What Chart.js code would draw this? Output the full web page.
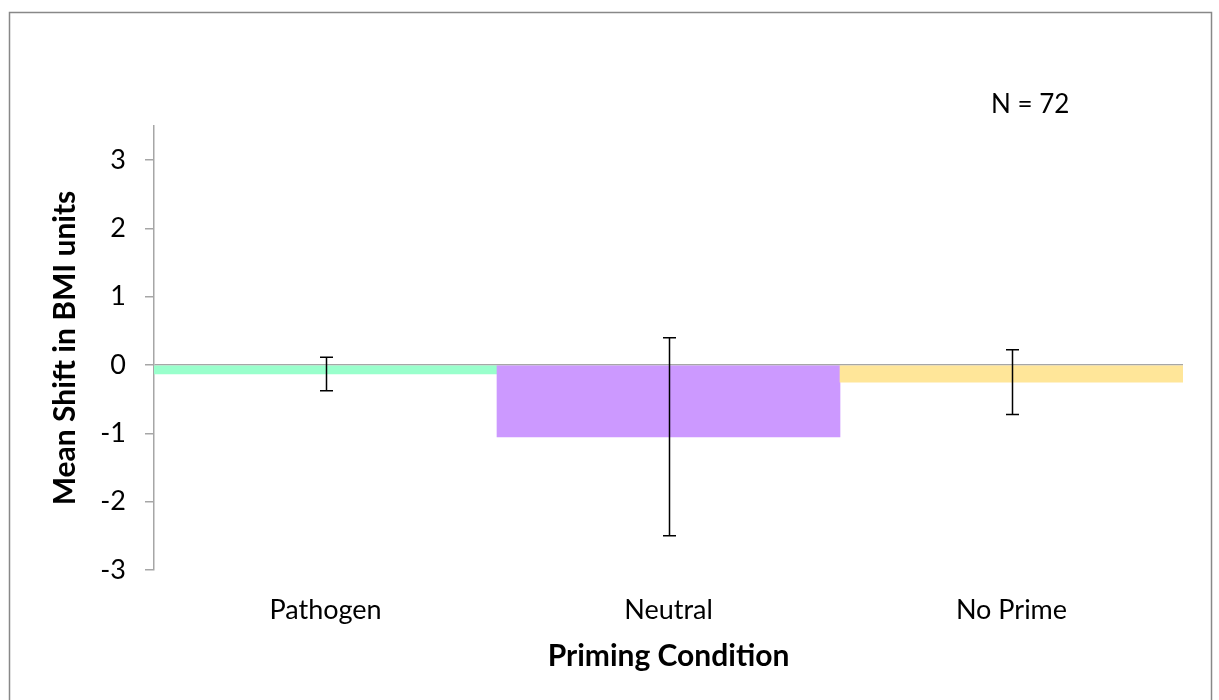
<!DOCTYPE html>
<html>
<head>
<meta charset="utf-8">
<script src="https://cdn.jsdelivr.net/npm/chart.js@4/dist/chart.umd.min.js"></script>
<style>
  body { margin: 0; background: #fff; }
  #wrap { position: absolute; left: 0; top: 0; width: 1219px; height: 700px; }
</style>
</head>
<body>
<div id="wrap"><canvas id="chart"></canvas></div>
<script>
// data
const categories = ['Pathogen', 'Neutral', 'No Prime'];
const meanShift = [-0.13, -1.05, -0.25];
const errorSize = [0.245, 1.45, 0.475];
const barColors = ['#99FFCC', '#CC99FF', '#FFE699'];
const sampleNote = 'N = 72';

const FONT = 'Lato, "Open Sans", sans-serif';
const AXIS_GRAY = '#A6A6A6';

// error bars drawn on top of the bars
const errorBars = {
  id: 'errorBars',
  afterDatasetsDraw(chart) {
    const ctx = chart.ctx;
    const y = chart.scales.y;
    const meta = chart.getDatasetMeta(0);
    ctx.save();
    ctx.strokeStyle = '#000';
    ctx.lineWidth = 1.5;
    meta.data.forEach((bar, i) => {
      const top = y.getPixelForValue(meanShift[i] + errorSize[i]);
      const bottom = y.getPixelForValue(meanShift[i] - errorSize[i]);
      const x = Math.round(bar.x) + 0.5;
      ctx.beginPath();
      ctx.moveTo(x, top);
      ctx.lineTo(x, bottom);
      ctx.moveTo(x - 6.5, top);
      ctx.lineTo(x + 6.5, top);
      ctx.moveTo(x - 6.5, bottom);
      ctx.lineTo(x + 6.5, bottom);
      ctx.stroke();
    });
    ctx.restore();
  }
};

// outer frame (bottom edge runs off the picture) and the N note
const frame = {
  id: 'frame',
  beforeDraw(chart) {
    const ctx = chart.ctx;
    ctx.save();
    ctx.fillStyle = '#fff';
    ctx.fillRect(0, 0, chart.width, chart.height);
    ctx.strokeStyle = '#888';
    ctx.lineWidth = 1.5;
    ctx.strokeRect(9.5, 12.5, 1202, 700);
    ctx.restore();
  },
  afterDraw(chart) {
    const ctx = chart.ctx;
    ctx.save();
    ctx.fillStyle = '#000';
    ctx.font = '26px ' + FONT;
    ctx.textAlign = 'left';
    ctx.textBaseline = 'middle';
    ctx.fillText(sampleNote, 991, 105);
    ctx.restore();
  }
};

new Chart(document.getElementById('chart'), {
  type: 'bar',
  data: {
    labels: categories,
    datasets: [{
      data: meanShift,
      backgroundColor: barColors,
      borderWidth: 0,
      barPercentage: 1,
      categoryPercentage: 1
    }]
  },
  options: {
    responsive: true,
    maintainAspectRatio: false,
    animation: false,
    layout: { padding: { left: 0, right: 36, top: 126, bottom: 0 } },
    plugins: {
      legend: { display: false },
      tooltip: { enabled: false }
    },
    scales: {
      x: {
        grid: { display: false, drawTicks: false },
        border: { display: false },
        ticks: { color: '#000', padding: 24, font: { family: FONT, size: 27 } },
        title: {
          display: true,
          text: 'Priming Condition',
          color: '#000',
          font: { family: FONT, size: 30, weight: 'bold' },
          padding: { bottom: 26 }
        },
        afterFit(scale) { scale.height = 130; }
      },
      y: {
        min: -3,
        max: 3.5,
        border: { display: true, color: AXIS_GRAY, width: 1.5 },
        grid: {
          color: c => (c.tick && c.tick.value === 0 ? AXIS_GRAY : 'transparent'),
          lineWidth: 1.5,
          tickColor: AXIS_GRAY,
          tickLength: 9
        },
        ticks: {
          stepSize: 1,
          includeBounds: false,
          color: '#000',
          padding: 19,
          font: { family: FONT, size: 27 }
        },
        afterBuildTicks(scale) {
          scale.ticks = scale.ticks.filter(t => Number.isInteger(t.value));
        },
        title: {
          display: true,
          text: 'Mean Shift in BMI units',
          color: '#000',
          font: { family: FONT, size: 30, weight: 'bold' },
          padding: { top: 47 }
        },
        afterFit(scale) { scale.width = 154; }
      }
    }
  },
  plugins: [frame, errorBars]
});
</script>
</body>
</html>
